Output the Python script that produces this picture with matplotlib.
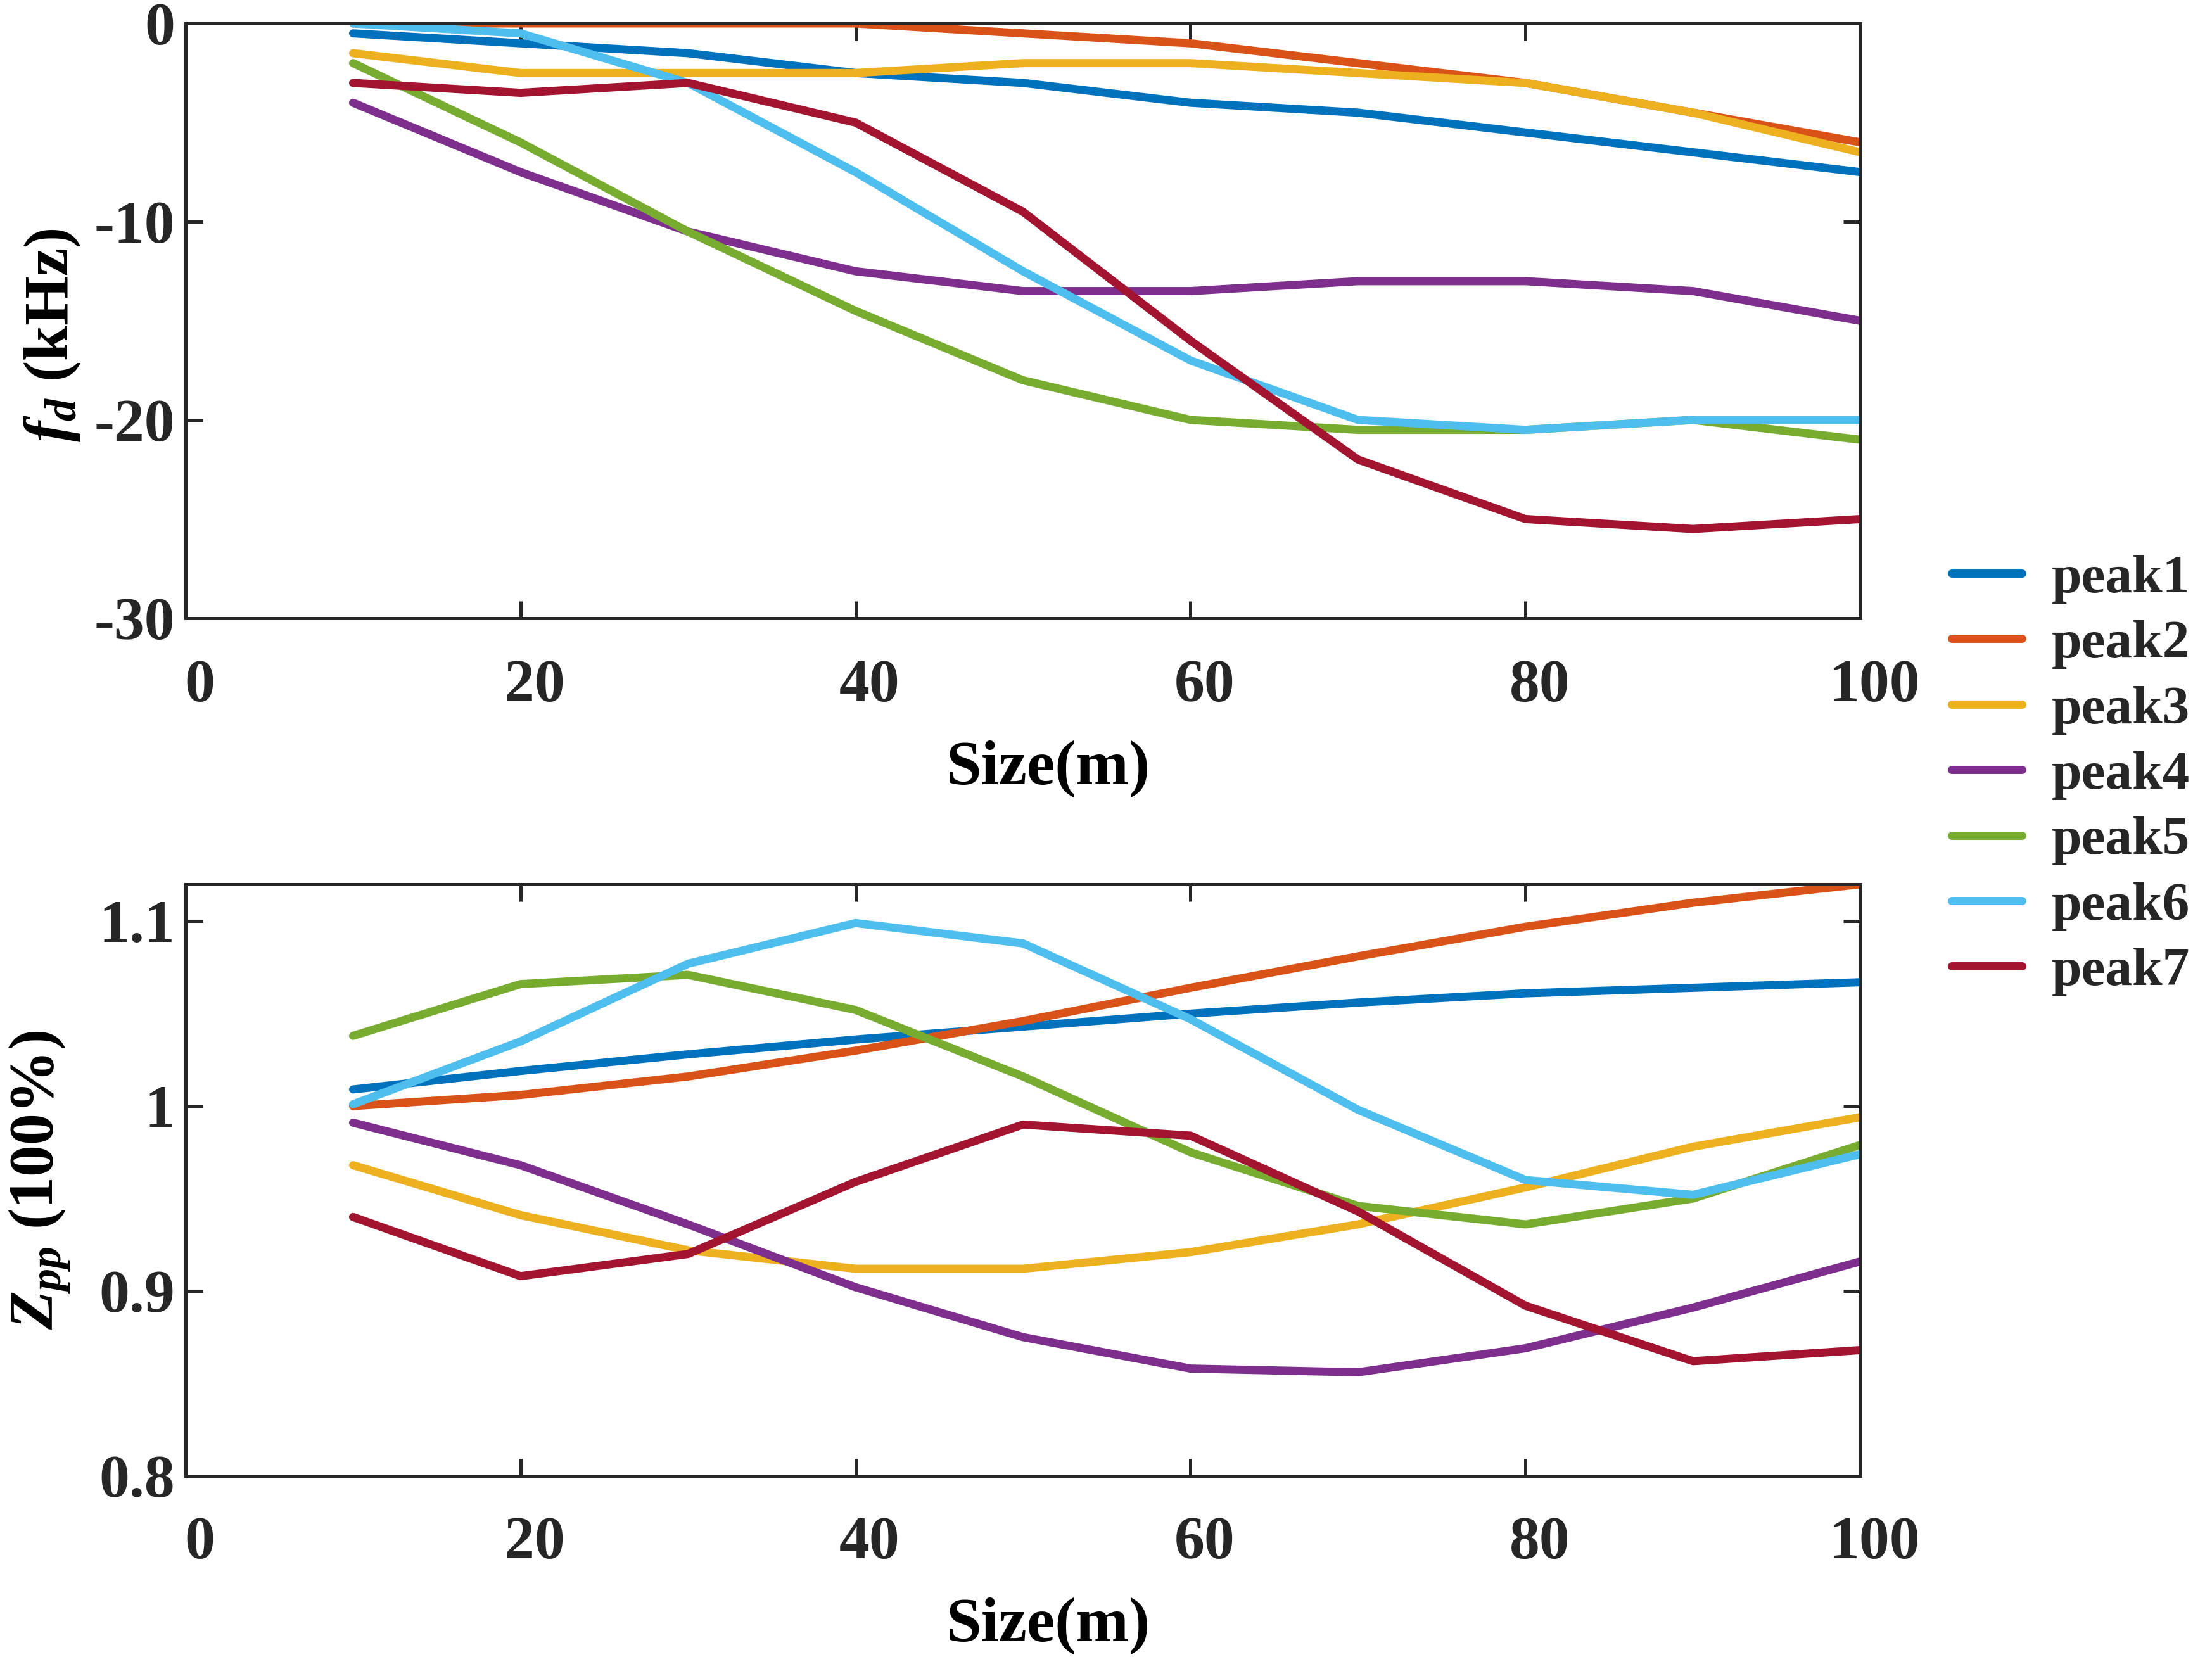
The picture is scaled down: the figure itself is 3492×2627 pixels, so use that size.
import matplotlib
matplotlib.use("Agg")
import matplotlib.pyplot as plt
from matplotlib.transforms import ScaledTranslation

# --- data ---
size_m = [10, 20, 30, 40, 50, 60, 70, 80, 90, 100]
labels = ['peak1', 'peak2', 'peak3', 'peak4', 'peak5', 'peak6', 'peak7']
colors = ['#0072BD', '#D95319', '#EDB120', '#7E2F8E', '#77AC30', '#4DBEEE', '#A2142F']

# frequency shift f_d (kHz)
fd_peak1 = [-0.5, -1.0, -1.5, -2.5, -3.0, -4.0, -4.5, -5.5, -6.5, -7.5]
fd_peak2 = [0.0, 0.0, 0.0, 0.0, -0.5, -1.0, -2.0, -3.0, -4.5, -6.0]
fd_peak3 = [-1.5, -2.5, -2.5, -2.5, -2.0, -2.0, -2.5, -3.0, -4.5, -6.5]
fd_peak4 = [-4.0, -7.5, -10.5, -12.5, -13.5, -13.5, -13.0, -13.0, -13.5, -15.0]
fd_peak5 = [-2.0, -6.0, -10.5, -14.5, -18.0, -20.0, -20.5, -20.5, -20.0, -21.0]
fd_peak6 = [0.0, -0.5, -3.0, -7.5, -12.5, -17.0, -20.0, -20.5, -20.0, -20.0]
fd_peak7 = [-3.0, -3.5, -3.0, -5.0, -9.5, -16.0, -22.0, -25.0, -25.5, -25.0]

# normalised amplitude Z_pp
z_peak1 = [1.009, 1.019, 1.028, 1.036, 1.043, 1.050, 1.056, 1.061, 1.064, 1.067]
z_peak2 = [1.000, 1.006, 1.016, 1.030, 1.046, 1.064, 1.081, 1.097, 1.110, 1.120]
z_peak3 = [0.968, 0.941, 0.922, 0.912, 0.912, 0.921, 0.936, 0.956, 0.978, 0.994]
z_peak4 = [0.991, 0.968, 0.936, 0.902, 0.875, 0.858, 0.856, 0.869, 0.891, 0.916]
z_peak5 = [1.038, 1.066, 1.071, 1.052, 1.016, 0.975, 0.946, 0.936, 0.950, 0.979]
z_peak6 = [1.001, 1.035, 1.077, 1.099, 1.088, 1.047, 0.998, 0.960, 0.952, 0.974]
z_peak7 = [0.940, 0.908, 0.920, 0.959, 0.990, 0.984, 0.943, 0.892, 0.862, 0.868]

fd_all = [fd_peak1, fd_peak2, fd_peak3, fd_peak4, fd_peak5, fd_peak6, fd_peak7]
z_all = [z_peak1, z_peak2, z_peak3, z_peak4, z_peak5, z_peak6, z_peak7]

x_ticks = [0, 20, 40, 60, 80, 100]
fd_ticks = [0, -10, -20, -30]
fd_ticklabels = ['0', '-10', '-20', '-30']
z_ticks = [0.8, 0.9, 1.0, 1.1]
z_ticklabels = ['0.8', '0.9', '1', '1.1']

# --- style ---
TXT = '#262626'
FS_TICK = 23
FS_LAB = 24
FS_LEG = 20.5
plt.rcParams['font.family'] = ['Liberation Serif', 'DejaVu Serif']
plt.rcParams['font.weight'] = 'bold'
plt.rcParams['mathtext.fontset'] = 'custom'
plt.rcParams['mathtext.rm'] = 'Liberation Serif:bold'
plt.rcParams['mathtext.it'] = 'Liberation Serif:italic:bold'
plt.rcParams['mathtext.bf'] = 'Liberation Serif:bold'
plt.rcParams['axes.edgecolor'] = TXT
plt.rcParams['text.color'] = TXT

fig = plt.figure(figsize=(11.64, 8.7567), dpi=300)
ax1 = fig.add_axes([0.0839, 0.6285, 0.8411 - 0.0839, 0.9859 - 0.6285])
ax2 = fig.add_axes([0.0839, 0.1131, 0.8411 - 0.0839, 0.4686 - 0.1131])

lines = []
for vals, lab, col in zip(fd_all, labels, colors):
    ln, = ax1.plot(size_m, vals, color=col, lw=3.1, label=lab, solid_capstyle='round')
    lines.append(ln)
for vals, lab, col in zip(z_all, labels, colors):
    ax2.plot(size_m, vals, color=col, lw=3.1, solid_capstyle='round')

shift = ScaledTranslation(22 / 300, 0, fig.dpi_scale_trans)

def style(ax):
    ax.set_xlim(0, 100)
    ax.set_xticks(x_ticks)
    ax.set_xticklabels([str(t) for t in x_ticks])
    ax.tick_params(axis='both', direction='in', length=6.5, width=1.2, colors=TXT,
                   labelsize=FS_TICK, top=True, right=True)
    ax.tick_params(axis='x', pad=15.5)
    ax.tick_params(axis='y', pad=4)
    for sp in ax.spines.values():
        sp.set_linewidth(1.2)
    for t in ax.get_xticklabels():
        t.set_transform(t.get_transform() + shift)
    ax.set_xlabel('Size(m)', fontsize=FS_LAB, fontweight='bold', labelpad=9)
    ax.xaxis.set_label_coords(0.515, -0.205)

style(ax1)
ax1.set_ylim(-30, 0)
ax1.set_yticks(fd_ticks)
ax1.set_yticklabels(fd_ticklabels)
ax1.set_ylabel(r'$f_d$ (kHz)', fontsize=FS_LAB, fontweight='bold')
ax1.yaxis.set_label_coords(-0.0617, 0.476)

style(ax2)
ax2.set_ylim(0.8, 1.12)
ax2.set_yticks(z_ticks)
ax2.set_yticklabels(z_ticklabels)
ax2.set_ylabel(r'$Z_{pp}$ (100%)', fontsize=FS_LAB, fontweight='bold')
ax2.yaxis.set_label_coords(-0.0673, 0.5)

fig.legend(handles=lines, labels=labels, loc='center left',
           bbox_to_anchor=(0.870, 0.534), frameon=False, fontsize=FS_LEG,
           handlelength=1.3, handletextpad=0.55, labelspacing=0.3, borderpad=0)

fig.savefig('out.png', dpi=300, facecolor='white')
